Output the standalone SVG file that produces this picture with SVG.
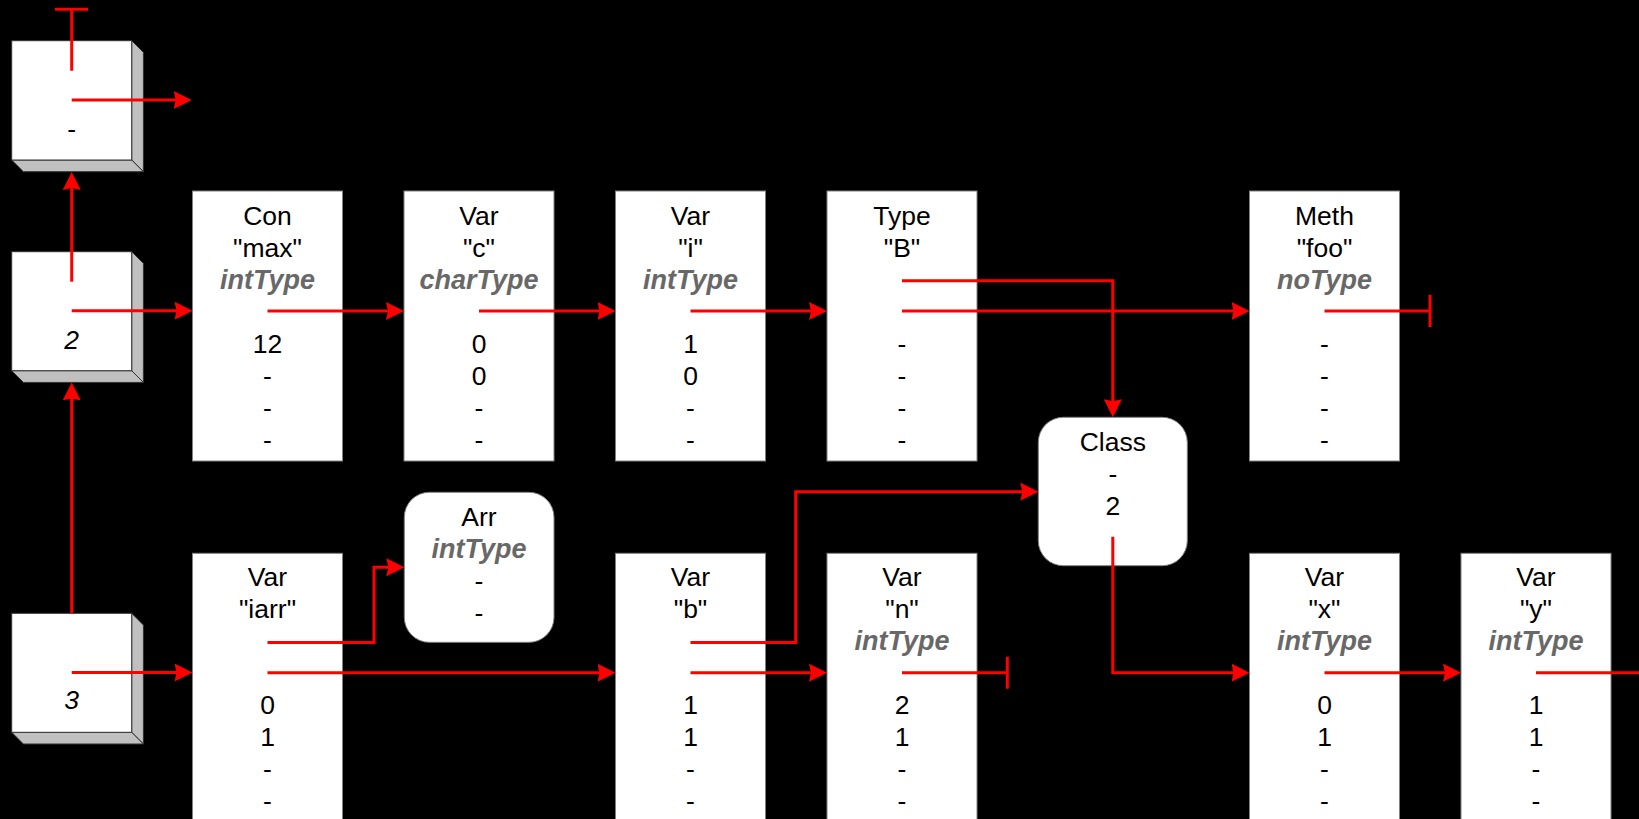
<svg xmlns="http://www.w3.org/2000/svg" width="1639" height="819" viewBox="0 0 1639 819">
  <defs>
    <marker id="arrow" markerUnits="userSpaceOnUse" markerWidth="20" markerHeight="20" refX="6" refY="9" orient="auto">
      <path d="M0,0 L18,9 L0,18 L2,9 z" fill="#ff0000"/>
    </marker>
    <style>
      .bg { fill: #000000; }
      .box { fill: #ffffff; stroke: #808080; stroke-width: 1; }
      .face { fill: #ffffff; stroke: #333333; stroke-width: 1; }
      .side { fill: #c0c0c0; stroke: #333333; stroke-width: 1; }
      .t { font-family: "Liberation Sans", Arial, sans-serif; font-size: 26.5px; text-anchor: middle; fill: #000000; }
      .ty { font-weight: bold; font-style: italic; fill: #686868; font-size: 27px; }
      .it { font-style: italic; }
      .ln { fill: none; stroke: #ff0000; stroke-width: 3; }
      .arr { marker-end: url(#arrow); }
    </style>
  </defs>

  <rect class="bg" x="0" y="0" width="1639" height="819"/>

  <!-- stack cubes -->
  <g id="cube1">
    <path class="side" d="M131.7,40.7 L143.4,52.4 L143.4,171.7 L131.7,160 z"/>
    <path class="side" d="M11.7,160 L131.7,160 L143.4,171.7 L23.4,171.7 z"/>
    <rect class="face" x="11.7" y="40.7" width="120" height="119.3"/>
    <text class="t" x="71.7" y="138">-</text>
  </g>
  <g id="cube2">
    <path class="side" d="M131.7,251.7 L143.4,263.4 L143.4,382.4 L131.7,370.7 z"/>
    <path class="side" d="M11.7,370.7 L131.7,370.7 L143.4,382.4 L23.4,382.4 z"/>
    <rect class="face" x="11.7" y="251.7" width="120" height="119"/>
    <text class="t it" x="71.7" y="349">2</text>
  </g>
  <g id="cube3">
    <path class="side" d="M131.7,613.3 L143.4,625 L143.4,744 L131.7,732.3 z"/>
    <path class="side" d="M11.7,732.3 L131.7,732.3 L143.4,744 L23.4,744 z"/>
    <rect class="face" x="11.7" y="613.3" width="120" height="119"/>
    <text class="t it" x="71.7" y="709">3</text>
  </g>

  <!-- row 1 entries -->
  <g id="con-max">
    <rect class="box" x="192.5" y="191" width="150" height="270"/>
    <text class="t" x="267.5" y="224.5">Con</text>
    <text class="t" x="267.5" y="256.5">"max"</text>
    <text class="t ty" x="267.5" y="288.5">intType</text>
    <text class="t" x="267.5" y="352.5">12</text>
    <text class="t" x="267.5" y="384.5">-</text>
    <text class="t" x="267.5" y="416.5">-</text>
    <text class="t" x="267.5" y="448.5">-</text>
  </g>
  <g id="var-c">
    <rect class="box" x="404" y="191" width="150" height="270"/>
    <text class="t" x="479" y="224.5">Var</text>
    <text class="t" x="479" y="256.5">"c"</text>
    <text class="t ty" x="479" y="288.5">charType</text>
    <text class="t" x="479" y="352.5">0</text>
    <text class="t" x="479" y="384.5">0</text>
    <text class="t" x="479" y="416.5">-</text>
    <text class="t" x="479" y="448.5">-</text>
  </g>
  <g id="var-i">
    <rect class="box" x="615.5" y="191" width="150" height="270"/>
    <text class="t" x="690.5" y="224.5">Var</text>
    <text class="t" x="690.5" y="256.5">"i"</text>
    <text class="t ty" x="690.5" y="288.5">intType</text>
    <text class="t" x="690.5" y="352.5">1</text>
    <text class="t" x="690.5" y="384.5">0</text>
    <text class="t" x="690.5" y="416.5">-</text>
    <text class="t" x="690.5" y="448.5">-</text>
  </g>
  <g id="type-b">
    <rect class="box" x="827" y="191" width="150" height="270"/>
    <text class="t" x="902" y="224.5">Type</text>
    <text class="t" x="902" y="256.5">"B"</text>
    <text class="t" x="902" y="352.5">-</text>
    <text class="t" x="902" y="384.5">-</text>
    <text class="t" x="902" y="416.5">-</text>
    <text class="t" x="902" y="448.5">-</text>
  </g>
  <g id="meth-foo">
    <rect class="box" x="1249.5" y="191" width="150" height="270"/>
    <text class="t" x="1324.5" y="224.5">Meth</text>
    <text class="t" x="1324.5" y="256.5">"foo"</text>
    <text class="t ty" x="1324.5" y="288.5">noType</text>
    <text class="t" x="1324.5" y="352.5">-</text>
    <text class="t" x="1324.5" y="384.5">-</text>
    <text class="t" x="1324.5" y="416.5">-</text>
    <text class="t" x="1324.5" y="448.5">-</text>
  </g>

  <!-- structure nodes -->
  <g id="class">
    <rect class="box" x="1038.3" y="417.3" width="149" height="148.4" rx="25" ry="25"/>
    <text class="t" x="1112.8" y="450.7">Class</text>
    <text class="t" x="1112.8" y="482.7">-</text>
    <text class="t" x="1112.8" y="514.7">2</text>
  </g>
  <g id="arr">
    <rect class="box" x="404.3" y="492.3" width="149.7" height="150" rx="25" ry="25"/>
    <text class="t" x="479" y="525.7">Arr</text>
    <text class="t ty" x="479" y="557.7">intType</text>
    <text class="t" x="479" y="589.7">-</text>
    <text class="t" x="479" y="621.7">-</text>
  </g>

  <!-- row 2 entries -->
  <g id="var-iarr">
    <rect class="box" x="192.5" y="553.3" width="150" height="270"/>
    <text class="t" x="267.5" y="586">Var</text>
    <text class="t" x="267.5" y="618">"iarr"</text>
    <text class="t" x="267.5" y="714">0</text>
    <text class="t" x="267.5" y="746">1</text>
    <text class="t" x="267.5" y="778">-</text>
    <text class="t" x="267.5" y="810">-</text>
  </g>
  <g id="var-b">
    <rect class="box" x="615.5" y="553.3" width="150" height="270"/>
    <text class="t" x="690.5" y="586">Var</text>
    <text class="t" x="690.5" y="618">"b"</text>
    <text class="t" x="690.5" y="714">1</text>
    <text class="t" x="690.5" y="746">1</text>
    <text class="t" x="690.5" y="778">-</text>
    <text class="t" x="690.5" y="810">-</text>
  </g>
  <g id="var-n">
    <rect class="box" x="827" y="553.3" width="150" height="270"/>
    <text class="t" x="902" y="586">Var</text>
    <text class="t" x="902" y="618">"n"</text>
    <text class="t ty" x="902" y="650">intType</text>
    <text class="t" x="902" y="714">2</text>
    <text class="t" x="902" y="746">1</text>
    <text class="t" x="902" y="778">-</text>
    <text class="t" x="902" y="810">-</text>
  </g>
  <g id="var-x">
    <rect class="box" x="1249.5" y="553.3" width="150" height="270"/>
    <text class="t" x="1324.5" y="586">Var</text>
    <text class="t" x="1324.5" y="618">"x"</text>
    <text class="t ty" x="1324.5" y="650">intType</text>
    <text class="t" x="1324.5" y="714">0</text>
    <text class="t" x="1324.5" y="746">1</text>
    <text class="t" x="1324.5" y="778">-</text>
    <text class="t" x="1324.5" y="810">-</text>
  </g>
  <g id="var-y">
    <rect class="box" x="1461" y="553.3" width="150" height="270"/>
    <text class="t" x="1536" y="586">Var</text>
    <text class="t" x="1536" y="618">"y"</text>
    <text class="t ty" x="1536" y="650">intType</text>
    <text class="t" x="1536" y="714">1</text>
    <text class="t" x="1536" y="746">1</text>
    <text class="t" x="1536" y="778">-</text>
    <text class="t" x="1536" y="810">-</text>
  </g>

  <!-- links (arrow lines end 12px before the tip; the marker supplies the rest) -->
  <g id="connectors">
    <!-- stack -->
    <path class="ln" d="M71.7,70.7 V9.3 M55,9.3 H88"/>
    <path class="ln arr" d="M71.7,100 H179.7"/>
    <path class="ln arr" d="M71.7,281.7 V184"/>
    <path class="ln arr" d="M71.7,310.7 H180.5"/>
    <path class="ln arr" d="M71.7,613.3 V394.4"/>
    <path class="ln arr" d="M71.7,672.5 H180.5"/>
    <!-- row 1 chain -->
    <path class="ln arr" d="M267.5,311 H392"/>
    <path class="ln arr" d="M479,311 H603.5"/>
    <path class="ln arr" d="M690.5,311 H815"/>
    <path class="ln arr" d="M902,280.7 H1112.8 V405.3"/>
    <path class="ln arr" d="M902,311 H1237.5"/>
    <path class="ln" d="M1324.5,311 H1430 M1430,295 V327"/>
    <!-- row 2 chain -->
    <path class="ln arr" d="M267.5,642.5 H374 V567.3 H392.3"/>
    <path class="ln arr" d="M267.5,672.7 H603.5"/>
    <path class="ln arr" d="M690.5,642.5 H795.7 V491.7 H1026.3"/>
    <path class="ln arr" d="M690.5,672.7 H815"/>
    <path class="ln" d="M902,672.7 H1007.3 M1007.3,656.7 V688.7"/>
    <path class="ln arr" d="M1112.8,536.7 V672.7 H1237.5"/>
    <path class="ln arr" d="M1324.5,672.7 H1449"/>
    <path class="ln" d="M1536,672.7 H1639"/>
  </g>
</svg>
